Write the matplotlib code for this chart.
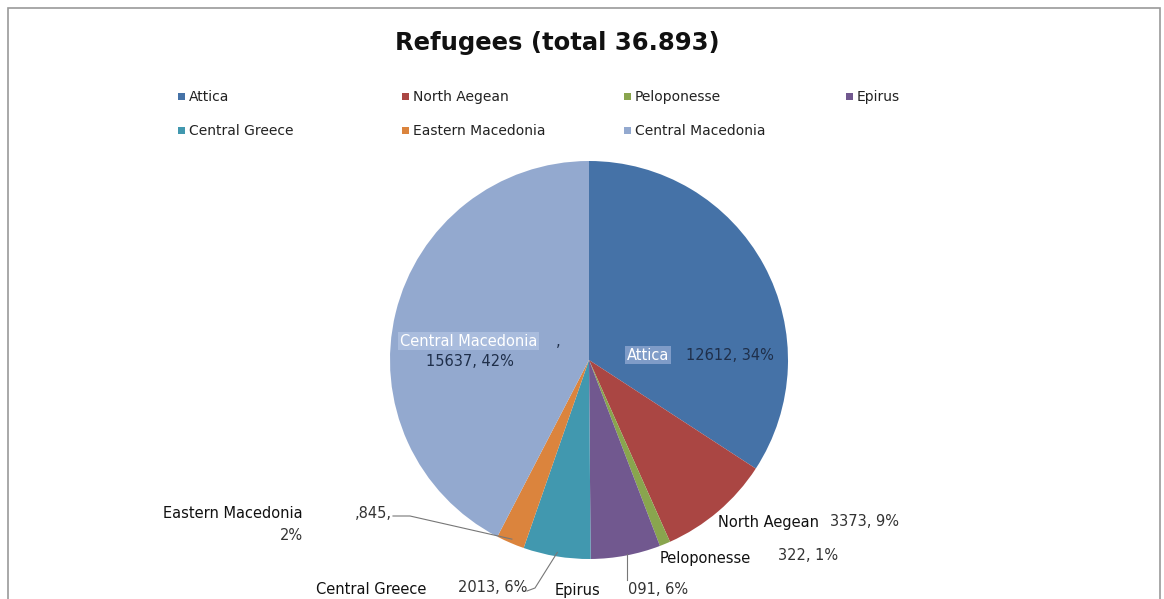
import matplotlib.pyplot as plt
import matplotlib.patches as mpatches
import numpy as np

# data
regions = ['Attica', 'North Aegean', 'Peloponesse', 'Epirus',
           'Central Greece', 'Eastern Macedonia', 'Central Macedonia']
refugees = [12612, 3373, 322, 2091, 2013, 845, 15637]
percents = [34, 9, 1, 6, 6, 2, 42]   # as printed on the chart
colors = ['#4572A7', '#AA4643', '#89A54E', '#71588F',
          '#4198AF', '#DB843D', '#93A9CF']
title = 'Refugees (total 36.893)'

plt.rcParams['font.family'] = 'DejaVu Sans'

W, H = 1164, 599
fig = plt.figure(figsize=(W / 100, H / 100), dpi=100)
ax = fig.add_axes([0, 0, 1, 1])

# outer chart frame
fig.patches.append(mpatches.Rectangle((8 / W, -0.1), 1152 / W, (H - 8) / H + 0.1,
                                      transform=fig.transFigure, fill=False,
                                      edgecolor='#9a9a9a', lw=1.2))

cx, cy, r = 589, H - 360, 199
wedges, _ = ax.pie(refugees, colors=colors, startangle=90, counterclock=False,
                   center=(cx, cy), radius=r, frame=True,
                   wedgeprops=dict(linewidth=0))
ax.set_xlim(0, W)
ax.set_ylim(0, H)
ax.set_aspect('equal')
ax.axis('off')

ax.text(557, H - 43, title, ha='center', va='center', fontsize=17.5,
        fontweight='bold', color='#111111')

lab_fs = 10.5
dark = '#333333'

# legend
leg_pos = [(182, 97), (406, 97), (628, 97), (850, 97),
           (182, 131), (406, 131), (628, 131)]
for name, col, (lx, ly) in zip(regions, colors, leg_pos):
    ax.add_patch(mpatches.Rectangle((lx - 4, H - ly - 3), 7, 7, color=col, lw=0))
    ax.text(lx + 7, H - ly, name, ha='left', va='center', fontsize=lab_fs - 0.5,
            color='#222222')


def edge_point(i, frac=1.0):
    w = wedges[i]
    ang = np.deg2rad((w.theta1 + w.theta2) / 2)
    return cx + r * frac * np.cos(ang), cy + r * frac * np.sin(ang)


def vp(i):
    return '%d, %d%%' % (refugees[i], percents[i])


# inside labels
ax.text(627, H - 355, regions[0], ha='left', va='center', fontsize=lab_fs, color='white',
        bbox=dict(facecolor='#7f9cc8', edgecolor='none', pad=1.2))
ax.text(686, H - 355, vp(0), ha='left', va='center', fontsize=lab_fs, color='#1f2f4a')
ax.text(400, H - 341, regions[6], ha='left', va='center', fontsize=lab_fs, color='white',
        bbox=dict(facecolor='#a9bcdd', edgecolor='none', pad=1.2))
ax.text(556, H - 341, ',', ha='left', va='center', fontsize=lab_fs, color='#1f2f4a')
ax.text(470, H - 362, vp(6), ha='center', va='center', fontsize=lab_fs, color='#1f2f4a')

# outside labels
ax.text(718, H - 522, regions[1], ha='left', va='center', fontsize=lab_fs, color='#111111')
ax.text(830, H - 522, vp(1), ha='left', va='center', fontsize=lab_fs, color=dark)
ax.text(660, H - 558, regions[2], ha='left', va='center', fontsize=lab_fs, color='#111111')
ax.text(778, H - 556, vp(2), ha='left', va='center', fontsize=lab_fs, color=dark)
ax.text(555, H - 591, regions[3], ha='left', va='center', fontsize=lab_fs, color='#111111')
ax.text(628, H - 590, '%s, %d%%' % (str(refugees[3])[1:], percents[3]), ha='left',
        va='center', fontsize=lab_fs, color=dark)
ax.text(316, H - 590, regions[4], ha='left', va='center', fontsize=lab_fs, color='#111111')
ax.text(458, H - 588, vp(4), ha='left', va='center', fontsize=lab_fs, color=dark)
ax.text(163, H - 514, regions[5], ha='left', va='center', fontsize=lab_fs, color='#111111')
ax.text(355, H - 513, ',%d,' % refugees[5], ha='left', va='center', fontsize=lab_fs, color=dark)
ax.text(291, H - 536, '%d%%' % percents[5], ha='center', va='center', fontsize=lab_fs,
        color=dark)

# leader lines
lc = '#777777'
ex, ey = edge_point(3, 0.99)
ax.plot([627, 627], [H - 580, ey], color=lc, lw=0.8)
ex, ey = edge_point(4, 0.98)
ax.plot([527, 535, ex], [H - 591, H - 588, ey], color=lc, lw=0.8)
ex, ey = edge_point(5, 0.98)
ax.plot([393, 410, ex], [H - 516, H - 516, ey], color=lc, lw=0.8)

fig.savefig('out.png', dpi=100, facecolor='white')
